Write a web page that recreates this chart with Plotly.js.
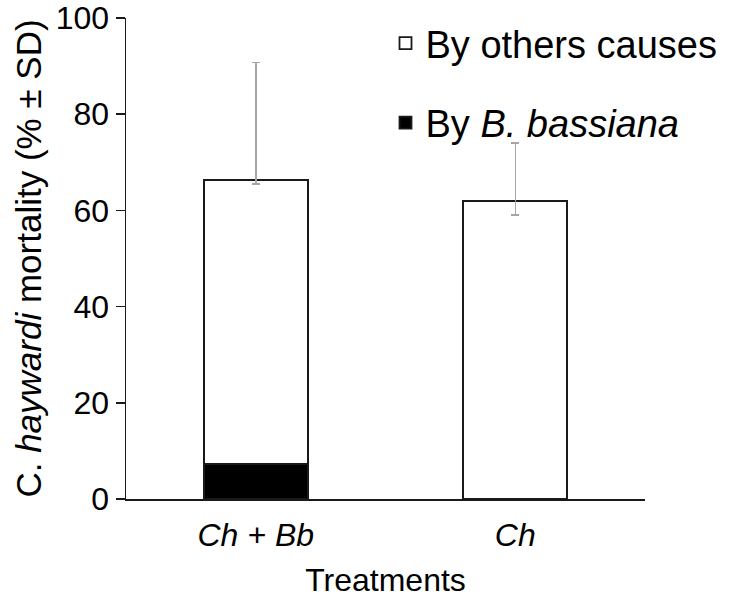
<!DOCTYPE html>
<html>
<head>
<meta charset="utf-8">
<script src="https://cdn.plot.ly/plotly-3.0.1.min.js"></script>
<style>html,body{margin:0;padding:0;background:#fff;}#chart{width:751px;height:605px;}</style>
</head>
<body>
<div id="chart"></div>
<script>
var categories = ["Ch + Bb", "Ch"];
var tickLabels = ["<i>Ch + Bb</i>", "<i>Ch</i>"];
var byBassiana = [7.2, 0];
var byOthers = [59.1, 62.0];
var othersErrPlus = [24.5, 12.0];
var othersErrMinus = [0.8, 3.0];

var font = "Liberation Sans, Arial, sans-serif";

var traces = [
  {
    type: "bar", name: "By <i>B. bassiana</i>", x: categories, y: byBassiana,
    legendgroup: "b", legendrank: 2,
    marker: {color: "#000000", line: {color: "#1a1a1a", width: 1.8}}
  },
  {
    type: "bar", name: "By others causes", x: categories, y: byOthers,
    legendgroup: "o", legendrank: 1,
    marker: {color: "#ffffff", line: {color: "#1a1a1a", width: 1.8}},
    error_y: {type: "data", symmetric: false, array: othersErrPlus, arrayminus: othersErrMinus,
              color: "#a6a6a6", thickness: 1.5, width: 4}
  }
];

var layout = {
  width: 751, height: 605,
  margin: {l: 126, r: 106, t: 18, b: 106},
  paper_bgcolor: "#ffffff", plot_bgcolor: "#ffffff",
  barmode: "stack", bargap: 0.6,
  font: {family: font, color: "#000000"},
  showlegend: true,
  legend: {x: 0.5, y: 1.0125, xanchor: "left", yanchor: "top",
           font: {family: font, size: 38, color: "#000"},
           traceorder: "grouped", tracegroupgap: 27,
           bgcolor: "rgba(0,0,0,0)"},
  xaxis: {
    type: "category", tickvals: categories, ticktext: tickLabels,
    showline: true, linecolor: "#1a1a1a", linewidth: 1.5,
    ticks: "outside", ticklen: 7, tickcolor: "rgba(0,0,0,0)", showgrid: false, zeroline: false,
    tickfont: {family: font, size: 32, color: "#000"},
    title: {text: "Treatments", font: {family: font, size: 32, color: "#000"}, standoff: 16}
  },
  yaxis: {
    range: [0, 100], dtick: 20, tick0: 0,
    showline: true, linecolor: "#1a1a1a", linewidth: 1.5,
    ticks: "outside", ticklen: 9, tickcolor: "#1a1a1a", tickwidth: 1.5,
    showgrid: false, zeroline: false,
    tickfont: {family: font, size: 32, color: "#000"},
    title: {text: "C. <i>haywardi</i> mortality (% ± SD)",
            font: {family: font, size: 35, color: "#000"}, standoff: 3}
  }
};

Plotly.newPlot("chart", traces, layout, {displayModeBar: false, staticPlot: true});
</script>
</body>
</html>
